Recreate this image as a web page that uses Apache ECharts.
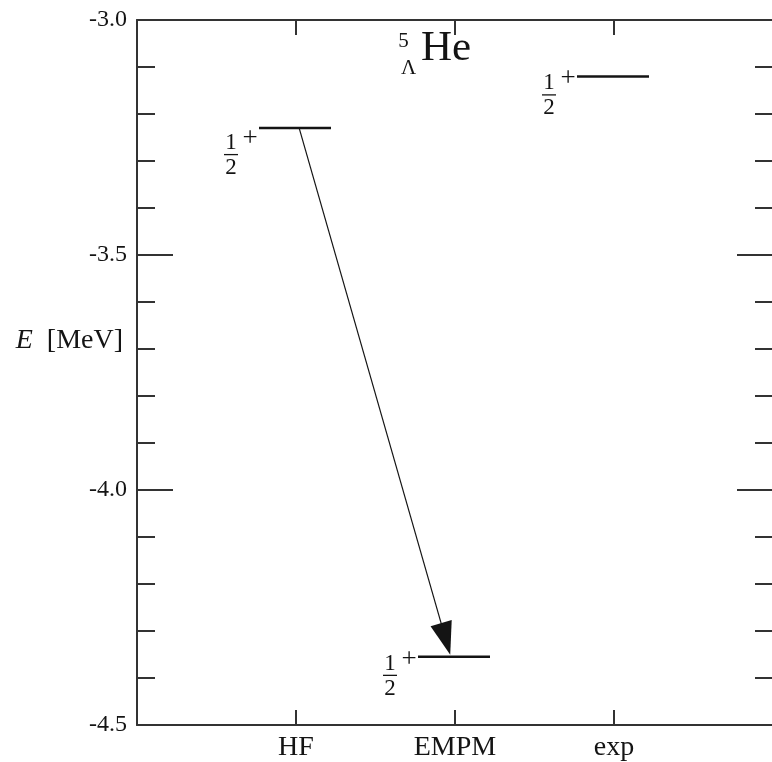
<!DOCTYPE html>
<html><head><meta charset="utf-8">
<script src="https://cdn.jsdelivr.net/npm/echarts@6/dist/echarts.min.js"></script>
<style>html,body{margin:0;padding:0;background:#fff}#c{width:772px;height:762px}</style>
</head><body><div id="c"></div>
<script>
// ---- data ----
const categories = ['HF', 'EMPM', 'exp'];
const categoryPos = [1, 2, 3];
const energies = [-3.23, -4.355, -3.12];
const spinNumerators = ['1', '1', '1'];
const spinDenominators = ['2', '2', '2'];
const parities = ['+', '+', '+'];
const arrowFrom = [1.02, -3.23];
const arrowTo = [1.97, -4.355];
const yTickValues = [-4.5, -4.0, -3.5, -3.0];
const yTickLabels = ['-4.5', '-4.0', '-3.5', '-3.0'];
const nucleusMass = '5';
const nucleusHyperon = 'Λ';
const nucleusSymbol = 'He';
const yAxisSymbol = 'E';
const yAxisUnit = '[MeV]';

// ---- style ----
const FONT = 'Liberation Serif';
const INK = '#141414';
const AXIS = '#333333';
const labelNudge = [8, 0, 0];

const chart = echarts.init(document.getElementById('c'), null, {renderer: 'canvas'});

function catLabel(v) {
  const i = categoryPos.indexOf(Math.round(v));
  return (i >= 0 && Math.abs(v - categoryPos[i]) < 1e-6) ? categories[i] : '';
}
function yLabel(v) {
  for (let i = 0; i < yTickValues.length; i++) if (Math.abs(v - yTickValues[i]) < 1e-6) return yTickLabels[i];
  return '';
}

function txt(x, y, text, size) {
  return {
    type: 'text', x: x, y: y,
    style: {text: text, fontFamily: FONT, fontSize: size, fill: INK,
      align: 'center', verticalAlign: 'middle', textAlign: 'center', textVerticalAlign: 'middle'}
  };
}

function renderLevel(params, api) {
  const i = params.dataIndex;
  const p = api.coord([api.value(0), api.value(1)]);
  const cx = p[0] - 1, y = p[1];
  const L = cx - 36, R = cx + 36;
  const dy = labelNudge[i] || 0;
  const fx = L - 28;
  return {
    type: 'group',
    children: [
      {type: 'line', shape: {x1: L, y1: y, x2: R, y2: y}, style: {stroke: INK, lineWidth: 2.5}},
      txt(fx, y + 7 + dy, spinNumerators[i], 23),
      {type: 'line', shape: {x1: fx - 7, y1: y + 18.5 + dy, x2: fx + 7, y2: y + 18.5 + dy}, style: {stroke: INK, lineWidth: 1.3}},
      txt(fx, y + 32 + dy, spinDenominators[i], 23),
      txt(L - 9, y + 3 + dy, parities[i], 27)
    ]
  };
}

function renderArrow(params, api) {
  const a = api.coord([api.value(0), api.value(1)]);
  const b0 = api.coord([api.value(2), api.value(3)]);
  const b = [b0[0], b0[1] - 2];
  const dx = b[0] - a[0], dy = b[1] - a[1];
  const len = Math.hypot(dx, dy), ux = dx / len, uy = dy / len;
  const hl = 33, hw = 11;
  const m = [b[0] - ux * hl, b[1] - uy * hl];
  return {
    type: 'group',
    children: [
      {type: 'line', shape: {x1: a[0], y1: a[1], x2: m[0] + ux * 2, y2: m[1] + uy * 2}, style: {stroke: INK, lineWidth: 1.2}},
      {type: 'polygon', shape: {points: [b, [m[0] - uy * hw, m[1] + ux * hw], [m[0] + uy * hw, m[1] - ux * hw]]}, style: {fill: INK}}
    ]
  };
}

const axisLineStyle = {color: AXIS, width: 2};
const xBase = {
  type: 'value', min: 0, max: 4, interval: 1,
  axisLine: {show: true, onZero: false, lineStyle: axisLineStyle},
  axisTick: {show: true, inside: true, length: 15, lineStyle: {color: AXIS, width: 2}},
  splitLine: {show: false}
};
const yBase = {
  type: 'value', min: -4.5, max: -3.0, interval: 0.5,
  axisLine: {show: true, onZero: false, lineStyle: axisLineStyle},
  axisTick: {show: true, inside: true, length: 36, lineStyle: {color: AXIS, width: 2}},
  minorTick: {show: true, splitNumber: 5, length: 18, lineStyle: {color: AXIS, width: 2}},
  splitLine: {show: false}, minorSplitLine: {show: false}
};

const levelData = categoryPos.map((x, i) => [x, energies[i]]);

chart.setOption({
  animation: false,
  backgroundColor: '#ffffff',
  grid: {left: 137, top: 20, right: -1, bottom: 37, containLabel: false, outerBoundsMode: 'none'},
  xAxis: [
    Object.assign({}, xBase, {
      position: 'bottom',
      axisLabel: {show: true, formatter: catLabel, fontFamily: FONT, fontSize: 28, color: INK, margin: 9}
    }),
    Object.assign({}, xBase, {position: 'top', axisLabel: {show: false}})
  ],
  yAxis: [
    Object.assign({}, yBase, {
      position: 'left',
      axisLabel: {show: true, formatter: yLabel, fontFamily: FONT, fontSize: 24, color: INK, margin: 10},
      name: '{i|' + yAxisSymbol + '}  ' + yAxisUnit,
      nameLocation: 'middle', nameRotate: 0, nameGap: 14, nameMoveOverlap: false,
      nameTextStyle: {fontFamily: FONT, fontSize: 28, color: INK, padding: [0, 0, 64, 0],
        rich: {i: {fontFamily: FONT, fontSize: 28, fontStyle: 'italic', color: INK}}}
    }),
    Object.assign({}, yBase, {position: 'right', axisLabel: {show: false},
      axisLine: {show: false, onZero: false}})
  ],
  graphic: [
    {type: 'text', x: 403.5, y: 41, style: {text: nucleusMass, fontFamily: FONT, fontSize: 21, fill: INK, align: 'center', verticalAlign: 'middle'}},
    {type: 'text', x: 408.5, y: 68, style: {text: nucleusHyperon, fontFamily: FONT, fontSize: 21, fill: INK, align: 'center', verticalAlign: 'middle'}},
    {type: 'text', x: 421, y: 49, style: {text: nucleusSymbol, fontFamily: FONT, fontSize: 43, fill: INK, align: 'left', verticalAlign: 'middle'}}
  ],
  series: [
    {
      type: 'custom', name: 'levels', xAxisIndex: 0, yAxisIndex: 0,
      renderItem: renderLevel, data: levelData, encode: {x: 0, y: 1}, clip: false, silent: true
    },
    {
      type: 'custom', name: 'arrow', xAxisIndex: 0, yAxisIndex: 0,
      dimensions: ['x1', 'y1', 'x2', 'y2'],
      renderItem: renderArrow, data: [[arrowFrom[0], arrowFrom[1], arrowTo[0], arrowTo[1]]],
      encode: {x: [0, 2], y: [1, 3]}, clip: false, silent: true
    }
  ]
});
</script>
</body></html>
